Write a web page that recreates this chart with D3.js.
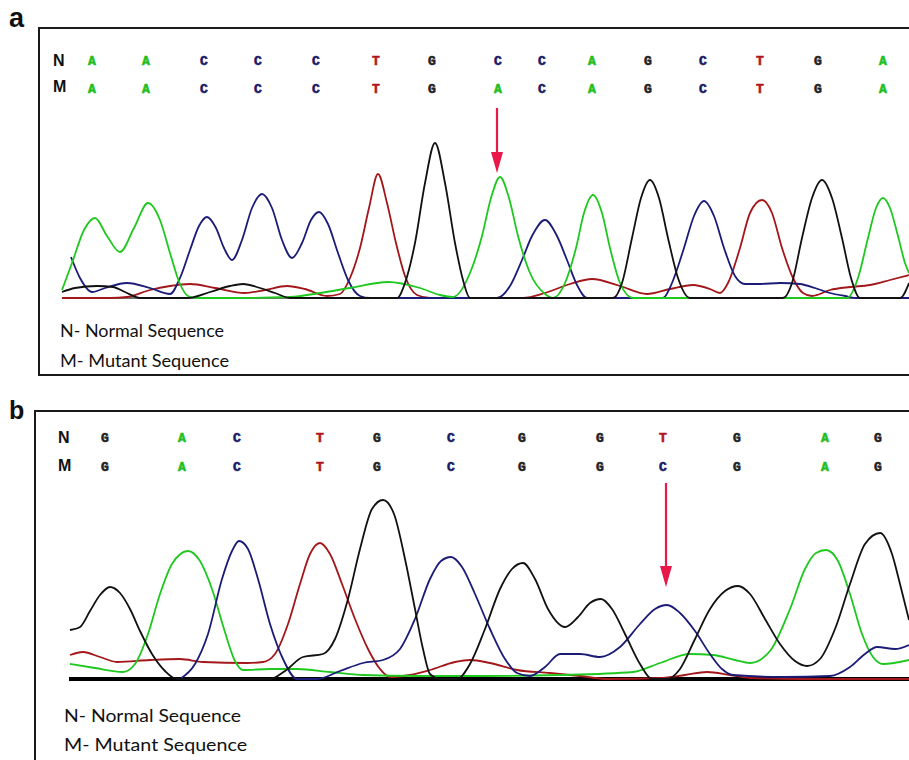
<!DOCTYPE html>
<html><head><meta charset="utf-8">
<script src="https://cdn.jsdelivr.net/npm/d3@7"></script>
<style>html,body{margin:0;padding:0;background:#fff;}svg{display:block;}</style>
</head><body><svg id="c" width="909" height="760"></svg>
<script>
// ---------- DATA (scan position, signal) ----------
// Panel a : normal vs mutant, C>A at base 8
const aBasesN = ["A","A","C","C","C","T","G","C","C","A","G","C","T","G","A"];
const aBasesM = ["A","A","C","C","C","T","G","A","C","A","G","C","T","G","A"];
const aBasePos = [92,146,204,258,316,376,432,498,542,592,648,703,760,818,883];
const aMutPos = 497, aMutSignal = 125;

const aGreen = [[62,8],[72,35],[84,68],[95,80],[107,62],[120,46],[134,70],[148,95],[160,78],[170,45],[180,14],[188,2],[196,0],[240,0],[290,1],[320,5],[350,10],[388,16],[420,10],[440,3],[453,1],[470,25],[482,62],[491,100],[500,121],[509,100],[518,62],[530,25],[545,4],[553,0],[565,15],[576,50],[584,85],[593,103],[602,85],[610,50],[620,15],[633,0],[700,0],[800,0],[847,0],[858,20],[868,60],[876,90],[883,100],[890,90],[898,62],[905,35],[909,25]];
const aBlue = [[71,41],[80,20],[92,6],[105,10],[127,15],[150,10],[170,4],[180,20],[190,48],[199,72],[207,81],[216,70],[224,50],[232,38],[242,58],[252,90],[262,104],[272,90],[282,58],[292,40],[302,55],[311,78],[319,86],[328,74],[338,45],[348,18],[360,2],[370,0],[430,0],[497,0],[510,12],[522,38],[532,62],[545,78],[557,62],[567,38],[577,13],[587,0],[620,0],[663,0],[672,15],[684,50],[694,82],[704,97],[714,82],[724,50],[735,22],[745,14],[760,14],[780,15],[800,14],[815,10],[830,5],[845,2],[857,0],[909,0]];
const aRed = [[62,0],[110,0],[127,1],[150,8],[170,12],[190,14],[215,10],[245,5],[265,8],[287,12],[305,9],[327,2],[340,4],[350,20],[360,50],[369,90],[378,124],[387,95],[396,55],[405,22],[417,3],[430,0],[500,0],[523,0],[545,5],[570,14],[592,19],[620,12],[647,4],[670,9],[693,13],[710,9],[720,5],[728,15],[740,50],[750,85],[762,98],[772,85],[782,50],[793,20],[803,5],[812,2],[830,8],[850,11],[870,13],[890,18],[909,23]];
const aBlack = [[62,6],[75,10],[97,12],[113,11],[125,6],[140,0],[187,0],[210,6],[230,12],[243,14],[260,10],[275,5],[290,0],[397,0],[405,15],[415,55],[425,115],[435,155],[445,115],[455,55],[463,18],[470,0],[613,0],[622,15],[632,60],[641,100],[650,118],[659,100],[668,60],[678,20],[690,0],[783,0],[792,15],[802,60],[812,100],[822,118],[832,100],[842,60],[851,20],[860,0],[900,0],[909,15]];

// Panel b : normal vs mutant, T>C at base 9
const bBasesN = ["G","A","C","T","G","C","G","G","T","G","A","G"];
const bBasesM = ["G","A","C","T","G","C","G","G","C","G","A","G"];
const bBasePos = [105,182,237,320,377,451,522,600,663,737,825,878];
const bMutPos = 666, bMutSignal = 92;

const bBlack = [[70,49],[80,52],[90,68],[100,84],[110,92],[120,86],[130,70],[140,48],[152,25],[165,8],[177,0],[270,0],[285,8],[303,22],[323,25],[335,40],[348,80],[360,130],[372,170],[383,179],[394,165],[405,120],[415,70],[423,30],[430,5],[440,0],[457,0],[470,15],[485,50],[500,90],[512,110],[523,116],[535,100],[548,70],[565,52],[578,62],[590,76],[601,80],[612,70],[625,45],[640,15],[652,0],[667,0],[680,10],[695,40],[710,70],[725,88],[738,93],[750,85],[765,60],[780,35],[795,18],[807,13],[820,20],[835,50],[850,95],[865,135],[880,146],[892,125],[900,95],[909,59]];
const bGreen = [[70,15],[95,11],[123,7],[135,15],[148,45],[160,85],[172,115],[188,128],[200,118],[212,90],[224,50],[235,18],[243,9],[270,10],[297,10],[330,7],[363,4],[420,3],[483,3],[560,4],[633,7],[660,16],[690,25],[713,24],[735,19],[750,16],[770,28],[790,70],[805,110],[816,126],[826,129],[838,118],[850,85],[862,45],[873,22],[883,15],[909,19]];
const bBlue = [[180,0],[195,15],[208,45],[222,100],[232,128],[239,138],[248,130],[258,100],[270,55],[283,20],[297,0],[317,0],[340,8],[363,16],[383,19],[400,30],[415,60],[430,100],[441,118],[451,122],[462,112],[475,85],[490,50],[505,20],[517,6],[530,3],[545,12],[560,25],[580,25],[600,22],[620,32],[640,55],[655,70],[667,74],[680,66],[695,48],[710,25],[722,10],[733,4],[783,2],[830,3],[850,12],[865,25],[877,32],[895,30],[909,34]];
const bRed = [[70,24],[83,27],[100,22],[117,17],[150,19],[180,20],[203,17],[247,16],[263,17],[275,25],[288,55],[300,95],[310,125],[320,136],[330,125],[342,95],[355,60],[368,30],[380,10],[390,2],[410,4],[430,9],[455,17],[470,19],[490,16],[517,9],[550,6],[580,3],[607,0],[660,1],[685,4],[707,7],[730,4],[750,1],[800,0],[909,0]];

const legendLines = ["N- Normal Sequence","M- Mutant Sequence"];

// ---------- STYLE ----------
const traceCol = {A:"#1ec81e", C:"#1b1b78", T:"#a3161a", G:"#111111"};
const baseCol  = {A:"#1fbf1f", C:"#1a1a66", T:"#b0141a", G:"#222222"};
const arrowCol = "#e8184b";

const svg = d3.select("#c");
svg.append("rect").attr("width",909).attr("height",760).attr("fill","#fff");

function panel(cfg){
  const g = svg.append("g");
  g.append("rect").attr("x",cfg.frame[0]).attr("y",cfg.frame[1])
   .attr("width",cfg.frame[2]).attr("height",cfg.frame[3])
   .attr("fill","none").attr("stroke","#1a1a1a").attr("stroke-width",2);
  g.append("text").attr("x",cfg.labelXY[0]).attr("y",cfg.labelXY[1])
   .attr("font-family","Liberation Sans, Arial, sans-serif").attr("font-weight","bold")
   .attr("font-size",cfg.labelSize).attr("fill","#111").text(cfg.label);

  const x = d3.scaleLinear().domain([60,910]).range([60,910]);
  const y = d3.scaleLinear().domain([0,200]).range([cfg.baseY, cfg.baseY-200]);

  g.append("line").attr("x1",x(cfg.x0)).attr("x2",x(909)).attr("y1",y(0)).attr("y2",y(0))
   .attr("stroke",cfg.baseCol).attr("stroke-width",cfg.baseW);

  const line = d3.line().x(d=>x(d[0])).y(d=>y(d[1])).curve(d3.curveMonotoneX);
  cfg.traces.forEach(([base,data])=>{
    g.append("path").attr("d",line(data)).attr("fill","none")
     .attr("stroke",traceCol[base]).attr("stroke-width",1.8).attr("stroke-linejoin","round");
  });

  [["N",cfg.basesN,cfg.rowY[0]],["M",cfg.basesM,cfg.rowY[1]]].forEach(([lab,bases,yy],i)=>{
    g.append("text").attr("x",cfg.nmX).attr("y",yy+cfg.nmDy[i]).attr("font-family","Liberation Sans, Arial, sans-serif")
     .attr("font-weight","bold").attr("font-size",cfg.nmSize).attr("fill","#111").text(lab);
    g.selectAll(null).data(bases).enter().append("text")
     .attr("x",(d,j)=>x(cfg.basePos[j])).attr("y",yy).attr("text-anchor","middle")
     .attr("font-family","Liberation Mono, DejaVu Sans Mono, monospace").attr("font-weight","bold")
     .attr("font-size",cfg.baseSize).attr("fill",d=>baseCol[d])
     .attr("stroke",d=>baseCol[d]).attr("stroke-width",0.6).text(d=>d);
  });

  const ax = x(cfg.mutPos), tip = y(cfg.mutSignal);
  g.append("line").attr("x1",ax).attr("x2",ax).attr("y1",cfg.arrowTop).attr("y2",tip-18)
   .attr("stroke",arrowCol).attr("stroke-width",2.2);
  g.append("path").attr("d",`M${ax-6},${tip-21}L${ax+6},${tip-21}L${ax},${tip}Z`).attr("fill",arrowCol);

  legendLines.forEach((t,i)=>{
    g.append("text").attr("x",cfg.legX).attr("y",cfg.legY[i])
     .attr("font-family","Lato, Open Sans, sans-serif").attr("font-size",cfg.legSize)
     .attr("fill","#111").attr("textLength",cfg.legW[i]).attr("lengthAdjust","spacingAndGlyphs").text(t);
  });
}

panel({frame:[39,28,900,347], label:"a", labelXY:[9,27], labelSize:27,
  baseY:298, x0:62, baseCol:"#444", baseW:1.6,
  traces:[["T",aRed],["C",aBlue],["A",aGreen],["G",aBlack]],
  basesN:aBasesN, basesM:aBasesM, basePos:aBasePos, rowY:[65,93], nmX:53, nmDy:[1,-1], nmSize:16, baseSize:13,
  mutPos:aMutPos, mutSignal:aMutSignal, arrowTop:108,
  legX:60, legY:[337,367], legW:[164,169], legSize:17});

panel({frame:[35,411,900,400], label:"b", labelXY:[9,419], labelSize:25,
  baseY:679, x0:69, baseCol:"#000", baseW:4,
  traces:[["T",bRed],["A",bGreen],["C",bBlue],["G",bBlack]],
  basesN:bBasesN, basesM:bBasesM, basePos:bBasePos, rowY:[442,471], nmX:58, nmDy:[1,0], nmSize:16, baseSize:13,
  mutPos:bMutPos, mutSignal:bMutSignal, arrowTop:483,
  legX:64, legY:[722,751], legW:[177,183], legSize:18});
</script></body></html>
